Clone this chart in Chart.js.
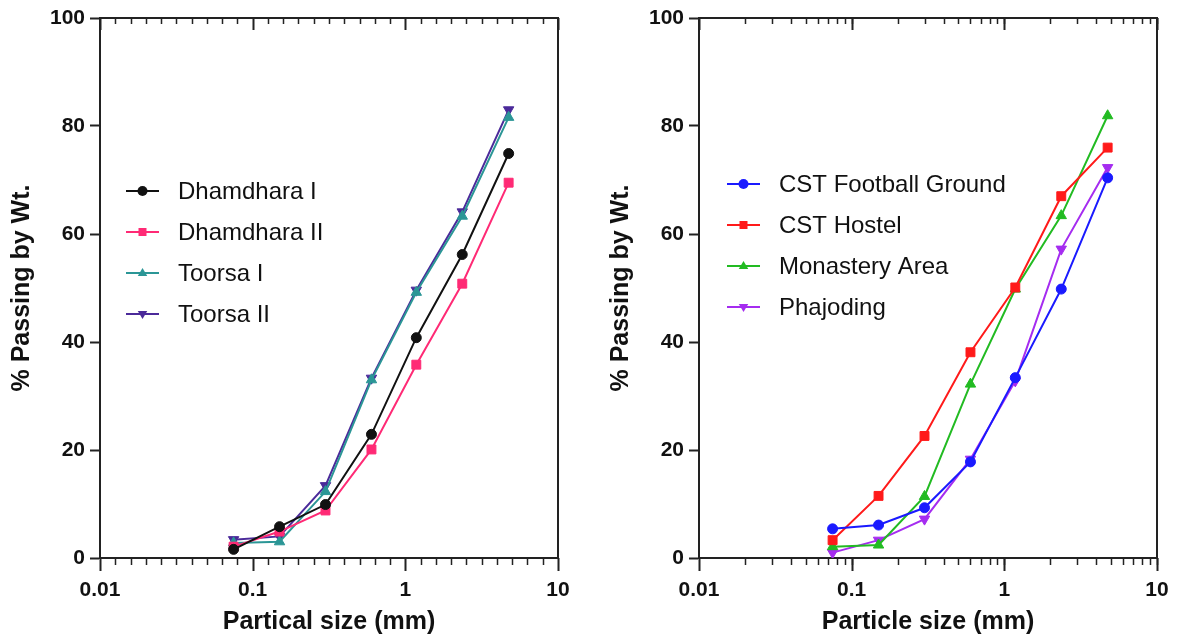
<!DOCTYPE html>
<html>
<head>
<meta charset="utf-8">
<script src="https://cdn.jsdelivr.net/npm/chart.js@4.4.0/dist/chart.umd.min.js"></script>
<style>
  body { margin: 0; background: #fff; width: 1177px; height: 640px; overflow: hidden; position: relative; }
  .panel { position: absolute; top: 0; height: 640px; }
  #left { left: 0; width: 588px; }
  #right { left: 599px; width: 578px; }
</style>
</head>
<body>
<div class="panel" id="left"><canvas id="chartLeft"></canvas></div>
<div class="panel" id="right"><canvas id="chartRight"></canvas></div>
<script>
// sieve sizes (mm)
const sizes = [0.075, 0.15, 0.3, 0.6, 1.18, 2.36, 4.75];

// left panel
const dhamdhara1 = [1.6, 5.8, 9.9, 22.9, 40.8, 56.2, 74.9];
const dhamdhara2 = [2.1, 4.9, 8.8, 20.1, 35.8, 50.8, 69.5];
const toorsa1 = [2.8, 3.0, 12.3, 33.0, 49.2, 63.3, 81.6];
const toorsa2 = [3.4, 4.0, 13.4, 33.3, 49.6, 64.1, 83.0];

// right panel
const cstFootball = [5.4, 6.1, 9.3, 17.8, 33.4, 49.8, 70.4];
const cstHostel = [3.3, 11.5, 22.6, 38.1, 50.1, 67.0, 76.0];
const monastery = [2.1, 2.4, 11.4, 32.2, 49.8, 63.4, 81.9];
const phajoding = [1.0, 3.3, 7.2, 18.3, 32.8, 57.2, 72.3];

const xTicks = [0.01, 0.1, 1, 10];
const yTicks = [0, 20, 40, 60, 80, 100];

const FONT = '"Liberation Sans", Arial, sans-serif';
const AXIS = '#222';

const toPoints = vals => sizes.map((s, i) => ({ x: s, y: vals[i] }));

function series(label, vals, color, style, radius, rotation) {
  return {
    label: label,
    data: toPoints(vals),
    borderColor: color,
    backgroundColor: color,
    borderWidth: 2,
    pointStyle: style,
    pointRadius: radius,
    pointRotation: rotation || 0,
    pointBorderColor: color,
    pointBackgroundColor: color,
    pointBorderWidth: 1,
    tension: 0
  };
}

function drawMarker(ctx, style, rot, x, y, r, color) {
  ctx.fillStyle = color;
  ctx.beginPath();
  if (style === 'circle') {
    ctx.arc(x, y, r, 0, Math.PI * 2);
  } else if (style === 'rect') {
    ctx.rect(x - r * 0.8, y - r * 0.8, r * 1.6, r * 1.6);
  } else {
    const d = rot ? -1 : 1;
    ctx.moveTo(x, y - d * r);
    ctx.lineTo(x + r * 0.95, y + d * r * 0.6);
    ctx.lineTo(x - r * 0.95, y + d * r * 0.6);
    ctx.closePath();
  }
  ctx.fill();
}

// box frame + log-axis tick marks (bottom outward, top inward)
const framePlugin = {
  id: 'frame',
  afterDraw(chart, args, opts) {
    const { ctx, chartArea: a } = chart;
    const x = chart.scales.x;
    ctx.save();
    ctx.strokeStyle = AXIS;
    ctx.lineWidth = 2;
    ctx.beginPath();
    ctx.moveTo(a.left, a.top);
    ctx.lineTo(a.right, a.top);
    ctx.lineTo(a.right, a.bottom);
    ctx.stroke();

    const mark = (v, down, inward) => {
      const px = Math.round(x.getPixelForValue(v)) + 0.5;
      ctx.beginPath();
      ctx.moveTo(px, a.bottom);
      ctx.lineTo(px, a.bottom + down);
      ctx.moveTo(px, a.top);
      ctx.lineTo(px, a.top + inward);
      ctx.stroke();
    };
    ctx.lineWidth = 2;
    xTicks.forEach(v => mark(v, 13, 12));
    ctx.lineWidth = 1.5;
    for (let k = 0; k < xTicks.length - 1; k++) {
      const d = xTicks[k];
      for (let i = 1; i <= 9; i++) {
        const v = opts.evenMinor ? d * Math.pow(10, i / 10) : d * (i + 1);
        mark(v, 7, 6);
      }
    }
    ctx.restore();
  }
};

// legend inside the plot, at a fixed spot
const sideLegend = {
  id: 'sideLegend',
  afterDraw(chart, args, opts) {
    const ctx = chart.ctx;
    ctx.save();
    ctx.font = '24px ' + FONT;
    ctx.textBaseline = 'middle';
    chart.data.datasets.forEach((ds, i) => {
      const y = opts.y + i * opts.gap;
      ctx.strokeStyle = ds.borderColor;
      ctx.lineWidth = 2;
      ctx.beginPath();
      ctx.moveTo(opts.x, y);
      ctx.lineTo(opts.x + 33, y);
      ctx.stroke();
      drawMarker(ctx, ds.pointStyle, ds.pointRotation, opts.x + 16.5, y, 5, ds.borderColor);
      ctx.fillStyle = '#111';
      ctx.fillText(ds.label, opts.x + 52, y + 1);
    });
    ctx.restore();
  }
};

function buildOptions(xTitle, evenMinor, legendPos) {
  return {
    responsive: true,
    maintainAspectRatio: false,
    animation: false,
    layout: { padding: { top: 18, right: legendPos.right, left: 0, bottom: 0 } },
    plugins: {
      legend: { display: false },
      tooltip: { enabled: false },
      frame: { evenMinor: evenMinor },
      sideLegend: { x: legendPos.x, y: legendPos.y, gap: legendPos.gap }
    },
    scales: {
      x: {
        type: 'logarithmic',
        min: 0.01,
        max: 10,
        afterBuildTicks: s => { s.ticks = xTicks.map(v => ({ value: v, major: true })); },
        afterFit: s => { s.height = 82; },
        ticks: {
          callback: v => String(v),
          autoSkip: false,
          maxRotation: 0,
          padding: 8,
          color: '#111',
          font: { family: FONT, size: 21, weight: 'bold' }
        },
        grid: { drawOnChartArea: false, drawTicks: true, tickLength: 12, tickColor: 'rgba(0,0,0,0)' },
        border: { color: AXIS, width: 2 },
        title: {
          display: true,
          text: xTitle,
          color: '#111',
          padding: { top: 0, bottom: 5 },
          font: { family: FONT, size: 25, weight: 'bold', lineHeight: 1 }
        }
      },
      y: {
        min: 0,
        max: 100,
        afterBuildTicks: s => { s.ticks = yTicks.map(v => ({ value: v })); },
        afterFit: s => { s.width = 100; },
        ticks: {
          padding: 5,
          color: '#111',
          font: { family: FONT, size: 21, weight: 'bold' }
        },
        grid: { drawOnChartArea: false, drawTicks: true, tickLength: 10, tickColor: AXIS, tickWidth: 2 },
        border: { color: AXIS, width: 2 },
        title: {
          display: true,
          text: '% Passing by Wt.',
          color: '#111',
          padding: { top: 10, bottom: 0 },
          font: { family: FONT, size: 25, weight: 'bold', lineHeight: 1 }
        }
      }
    }
  };
}

new Chart(document.getElementById('chartLeft'), {
  type: 'line',
  data: {
    datasets: [
      series('Dhamdhara I', dhamdhara1, '#111111', 'circle', 5),
      series('Dhamdhara II', dhamdhara2, '#ff2a75', 'rect', 6.3),
      series('Toorsa I', toorsa1, '#2b9696', 'triangle', 6),
      series('Toorsa II', toorsa2, '#4b2a9a', 'triangle', 6, 180)
    ]
  },
  options: buildOptions('Partical size (mm)', true, { right: 30, x: 126, y: 191, gap: 41 }),
  plugins: [framePlugin, sideLegend]
});

new Chart(document.getElementById('chartRight'), {
  type: 'line',
  data: {
    datasets: [
      series('CST Football Ground', cstFootball, '#1a1aff', 'circle', 5),
      series('CST Hostel', cstHostel, '#ff1a1a', 'rect', 6.3),
      series('Monastery Area', monastery, '#22bb22', 'triangle', 6),
      series('Phajoding', phajoding, '#a52cf0', 'triangle', 6, 180)
    ]
  },
  options: buildOptions('Particle size (mm)', false, { right: 20, x: 128, y: 184, gap: 41 }),
  plugins: [framePlugin, sideLegend]
});
</script>
</body>
</html>
